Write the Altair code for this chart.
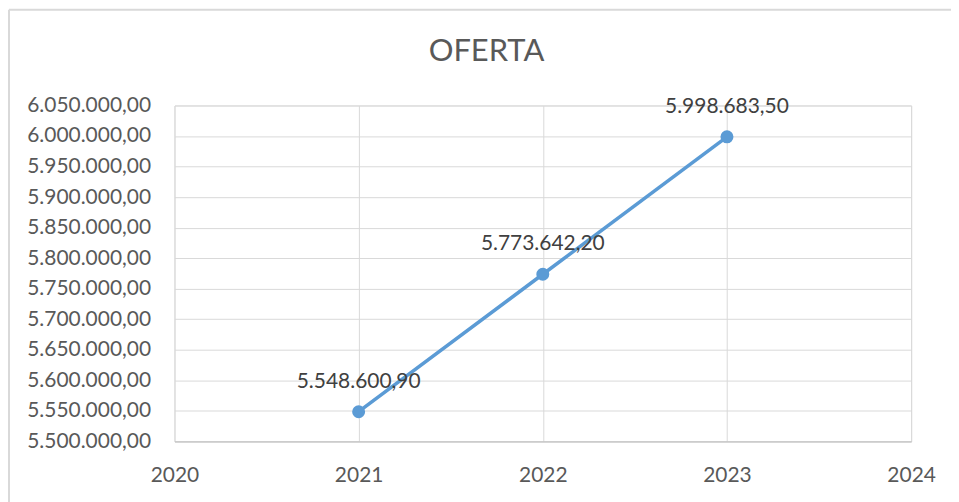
import altair as alt
import pandas as pd

years = [2021, 2022, 2023]
values = [5548600.90, 5773642.20, 5998683.50]
labels = ["5.548.600,90", "5.773.642,20", "5.998.683,50"]
title_text = "OFERTA"

df = pd.DataFrame({"year": years, "value": values, "label": labels})

FONT = "Lato"
GREY = "#595959"
BLUE = "#5B9BD5"

x = alt.X("year:Q", scale=alt.Scale(domain=[2020, 2024], nice=False),
          axis=alt.Axis(values=[2020, 2021, 2022, 2023, 2024], format="d", title=None,
                        grid=True, gridColor="#d9d9d9", ticks=False, domainColor="#bfbfbf",
                        labelFlush=False, labelOverlap=False,
                        labelFontSize=21, labelColor=GREY, labelFont=FONT, labelPadding=23))
y = alt.Y("value:Q", scale=alt.Scale(domain=[5500000, 6050000], nice=False, zero=False),
          axis=alt.Axis(values=list(range(5500000, 6050001, 50000)), format=",.2f", title=None,
                        grid=True, gridColor="#d9d9d9", ticks=False, domain=False,
                        labelFlush=False, labelOverlap=False,
                        labelFontSize=21, labelColor=GREY, labelFont=FONT, labelPadding=24))

base = alt.Chart(df)
line = base.mark_line(color=BLUE, strokeWidth=3.5).encode(x=x, y=y)
pts = base.mark_point(filled=True, color=BLUE, size=170, opacity=1).encode(x=x, y=y)
txt = base.mark_text(dy=-30, fontSize=21, color="#404040", font=FONT).encode(x=x, y=y, text="label:N")

title = alt.Chart(pd.DataFrame({"t": [title_text]})).mark_text(
    fontSize=31, color=GREY, font=FONT, align="center", baseline="middle"
).encode(x=alt.value(313), y=alt.value(-54), text="t:N")

frame_left = alt.Chart(pd.DataFrame({"a": [0]})).mark_rule(color="#d9d9d9", strokeWidth=2).encode(
    x=alt.value(-166), y=alt.value(-96), y2=alt.value(500))
frame_top = alt.Chart(pd.DataFrame({"a": [0]})).mark_rule(color="#d9d9d9", strokeWidth=2).encode(
    x=alt.value(-166), x2=alt.value(900), y=alt.value(-96))

chart = alt.layer(frame_left, frame_top, line, pts, txt, title).properties(
    width=739, height=337, autosize=alt.AutoSizeParams(type="none"),
    padding={"left": 167, "top": 97, "right": 40, "bottom": 60}
).configure_view(stroke=None).configure(background="white")

chart.save("out.html", embed_options={"renderer": "svg", "actions": False,
                                      "formatLocale": {"decimal": ",", "thousands": ".",
                                                       "grouping": [3], "currency": ["", " €"]}})
